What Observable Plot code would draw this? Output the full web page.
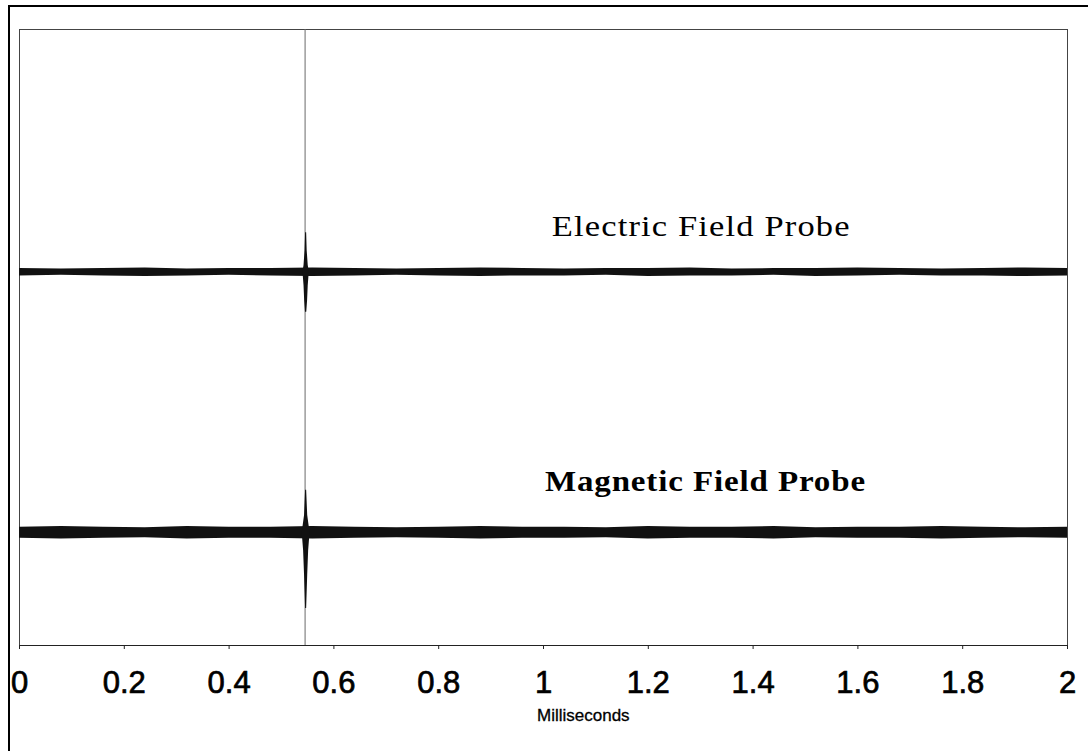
<!DOCTYPE html>
<html>
<head>
<meta charset="utf-8">
<script src="https://cdn.jsdelivr.net/npm/d3@7"></script>
<script src="https://cdn.jsdelivr.net/npm/@observablehq/plot@0.6"></script>
<style>
  html, body { margin: 0; padding: 0; background: #fff; }
  #wrap { position: relative; width: 1088px; height: 751px; overflow: hidden; }
  #border { position: absolute; left: 8px; top: 5px; width: 1090px; height: 760px;
            border-left: 2px solid #000; border-top: 2px solid #000; }
  #chart { position: absolute; left: 0; top: 0; }
</style>
</head>
<body>
<div id="wrap"><div id="chart"></div><div id="border"></div></div>
<script>
// ---- data ----
const time   = [0,0.08,0.16,0.24,0.32,0.40,0.48,0.56,0.64,0.72,0.80,0.88,0.96,1.04,1.12,1.20,1.28,1.36,1.44,1.52,1.60,1.68,1.76,1.84,1.92,2.00];
const elecHi = [6.12,6.11,6.12,6.13,6.11,6.12,6.12,6.13,6.12,6.11,6.12,6.13,6.12,6.11,6.12,6.12,6.13,6.11,6.12,6.12,6.13,6.12,6.11,6.12,6.13,6.12];
const elecLo = [6.00,6.01,6.00,5.99,6.00,6.01,6.00,5.99,6.00,6.01,6.00,5.99,6.00,6.00,6.01,5.99,6.00,6.00,6.01,5.99,6.00,6.01,6.00,6.00,5.99,6.00];
const magHi  = [1.92,1.93,1.92,1.91,1.93,1.92,1.92,1.93,1.92,1.91,1.92,1.93,1.92,1.92,1.91,1.93,1.92,1.92,1.93,1.91,1.92,1.92,1.93,1.92,1.91,1.92];
const magLo  = [1.74,1.73,1.74,1.75,1.73,1.74,1.74,1.73,1.74,1.75,1.74,1.73,1.74,1.74,1.75,1.73,1.74,1.74,1.73,1.75,1.74,1.74,1.73,1.74,1.75,1.74];

// spike (impulse) at ~0.547 ms: vertical profile and half-width (ms)
const spikeTime = 0.547;
const elecSpikeY    = [6.70, 6.41, 6.17, 6.06, 5.84, 5.60, 5.41];
const elecSpikeHalf = [0.0010, 0.0020, 0.0040, 0.0060, 0.0040, 0.0028, 0.0012];
const magSpikeY     = [2.52, 2.11, 1.83, 1.54, 1.14, 0.60];
const magSpikeHalf  = [0.0010, 0.0030, 0.0075, 0.0048, 0.0030, 0.0010];
const markerTime = 0.545;

const xTicks = [0,0.2,0.4,0.6,0.8,1,1.2,1.4,1.6,1.8,2];
const xTickLabels = ["0","0.2","0.4","0.6","0.8","1","1.2","1.4","1.6","1.8","2"];
const xLabel = "Milliseconds";
const seriesNames = ["Electric Field Probe", "Magnetic Field Probe"];
const labelX = [1.301, 1.309];
const labelY = [6.81, 2.67];

// ---- build tables ----
const elec = time.map((t, i) => ({t, hi: elecHi[i], lo: elecLo[i]}));
const mag  = time.map((t, i) => ({t, hi: magHi[i], lo: magLo[i]}));
const eSpike = elecSpikeY.map((y, i) => ({y, a: spikeTime - elecSpikeHalf[i], b: spikeTime + elecSpikeHalf[i]}));
const mSpike = magSpikeY.map((y, i) => ({y, a: spikeTime - magSpikeHalf[i], b: spikeTime + magSpikeHalf[i]}));
const labels = seriesNames.map((s, i) => ({s, x: labelX[i], y: labelY[i], bold: i === 1}));

const chart = Plot.plot({
  width: 1088,
  height: 751,
  marginLeft: 19,
  marginRight: 21,
  marginTop: 29,
  marginBottom: 106,
  style: {background: "transparent", color: "#000"},
  x: {domain: [0, 2]},
  y: {domain: [0, 10], axis: null},
  marks: [
    Plot.frame({stroke: "#444", strokeWidth: 1}),
    Plot.ruleY([0], {stroke: "#222", strokeWidth: 1.2}),
    Plot.ruleX([markerTime], {stroke: "#6a6a6a", strokeWidth: 1}),
    Plot.areaY(elec, {x: "t", y1: "lo", y2: "hi", fill: "#111", curve: "linear"}),
    Plot.areaY(mag, {x: "t", y1: "lo", y2: "hi", fill: "#111", curve: "linear"}),
    Plot.areaX(eSpike, {y: "y", x1: "a", x2: "b", fill: "#111", curve: "linear"}),
    Plot.areaX(mSpike, {y: "y", x1: "a", x2: "b", fill: "#111", curve: "linear"}),
    Plot.axisX(xTicks, {
      tickSize: 4, tickPadding: 21.5, fontSize: 31,
      fontFamily: "'Liberation Sans', Arial, sans-serif",
      tickFormat: (d, i) => xTickLabels[i], label: null, stroke: "#222"
    }),
    Plot.text([xLabel], {
      x: [1.076], frameAnchor: "bottom", dy: 75.5, text: d => d,
      fontSize: 17, fontFamily: "'Liberation Sans', Arial, sans-serif", fill: "#000"
    }),
    Plot.text(labels.filter(d => !d.bold), {
      x: "x", y: "y", text: "s", fontSize: 30, fill: "#000",
      fontFamily: "'Liberation Serif', 'Times New Roman', serif"
    }),
    Plot.text(labels.filter(d => d.bold), {
      x: "x", y: "y", text: "s", fontSize: 30, fill: "#000", fontWeight: "bold",
      fontFamily: "'Liberation Serif', 'Times New Roman', serif"
    })
  ]
});
document.getElementById("chart").appendChild(chart);

// heavier tick labels (scanned look)
d3.select(chart).selectAll("text").filter(function() {
  return xTickLabels.includes(this.textContent) || this.textContent === xLabel;
}).style("stroke", "#000").style("stroke-width", function() {
  return this.textContent === xLabel ? "0.3px" : "0.7px";
});

// widen the serif series labels (broad glyphs in the reference)
d3.select(chart).selectAll("text").filter(function() {
  return seriesNames.includes(this.textContent);
}).each(function() {
  const el = d3.select(this);
  const isE = this.textContent === seriesNames[0];
  el.attr("letter-spacing", isE ? "1px" : "0.8px");
  const bb = this.getBBox();
  const cx = bb.x + bb.width / 2;
  const s = isE ? 1.15 : 1.1;
  const t = el.attr("transform") || "";
  el.attr("transform", `${t} translate(${cx},0) scale(${s},1) translate(${-cx},0)`);
});
</script>
</body>
</html>
